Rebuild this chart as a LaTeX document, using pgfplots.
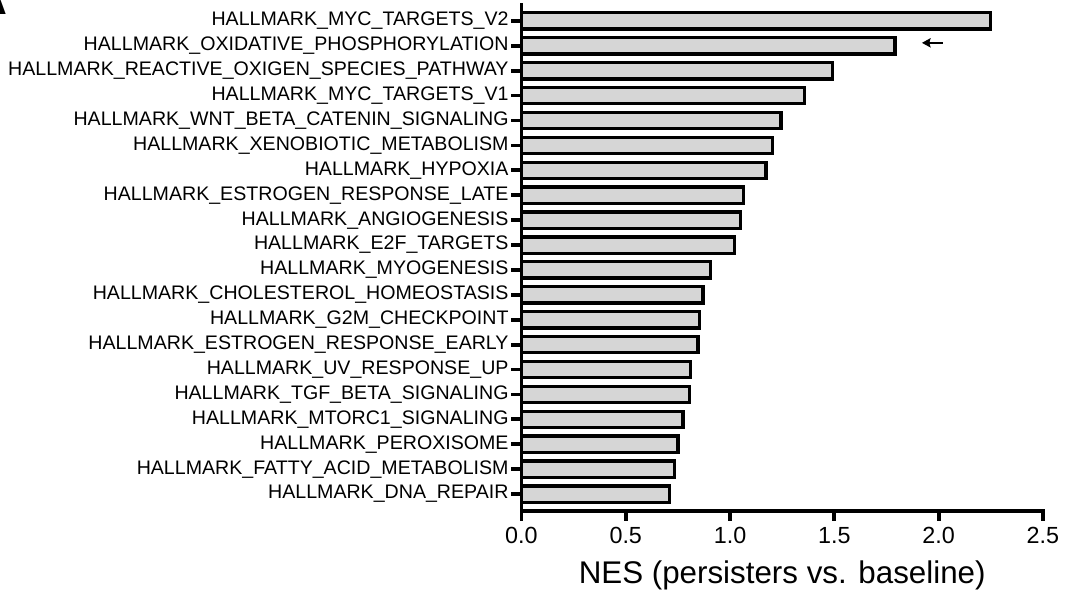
\documentclass[border=0pt]{standalone}
\usepackage{fontspec}
\setmainfont{Liberation Sans}
\usepackage{pgfplots}
\pgfplotsset{compat=1.18}
\usetikzlibrary{arrows.meta}
\definecolor{barfill}{RGB}{214,214,214}
\begin{document}
\begin{tikzpicture}[x=1pt,y=1pt]
\begin{axis}[
  at={(391.1pt,63pt)}, anchor=south west,
  scale only axis, width=391.1pt, height=379.5pt,
  xmin=0, xmax=2.5, ymin=-0.68, ymax=19.64,
  clip=false,
  axis x line*=bottom, axis y line*=left,
  axis line style={-, line width=2.8pt, line cap=rect, black},
  every tick/.style={line width=2.8pt, black},
  major tick length=7.5pt, tick align=outside,
  xtick={0,0.5,1,1.5,2,2.5},
  ytick={0,...,19},
  /pgf/number format/assume math mode=true,
  xticklabel style={font=\fontsize{17.5}{17.5}\selectfont, inner sep=4.5pt,
    /pgf/number format/fixed, /pgf/number format/fixed zerofill,
    /pgf/number format/precision=1},
  yticklabel style={font=\fontsize{14.7}{14.7}\selectfont, inner sep=2pt},
  yticklabels={HALLMARK\_DNA\_REPAIR,
    HALLMARK\_FATTY\_ACID\_METABOLISM,
    HALLMARK\_PEROXISOME,
    HALLMARK\_MTORC1\_SIGNALING,
    HALLMARK\_TGF\_BETA\_SIGNALING,
    HALLMARK\_UV\_RESPONSE\_UP,
    HALLMARK\_ESTROGEN\_RESPONSE\_EARLY,
    HALLMARK\_G2M\_CHECKPOINT,
    HALLMARK\_CHOLESTEROL\_HOMEOSTASIS,
    HALLMARK\_MYOGENESIS,
    HALLMARK\_E2F\_TARGETS,
    HALLMARK\_ANGIOGENESIS,
    HALLMARK\_ESTROGEN\_RESPONSE\_LATE,
    HALLMARK\_HYPOXIA,
    HALLMARK\_XENOBIOTIC\_METABOLISM,
    HALLMARK\_WNT\_BETA\_CATENIN\_SIGNALING,
    HALLMARK\_MYC\_TARGETS\_V1,
    HALLMARK\_REACTIVE\_OXIGEN\_SPECIES\_PATHWAY,
    HALLMARK\_OXIDATIVE\_PHOSPHORYLATION,
    HALLMARK\_MYC\_TARGETS\_V2},
  xlabel={NES (persisters vs. baseline)},
  xlabel style={font=\fontsize{23.5}{23.5}\selectfont,
    at={(axis description cs:0.5,0)}, anchor=north, inner sep=0pt, yshift=-37.5pt},
  xbar, bar width=12.2pt, bar shift=0pt,
]
\addplot[draw=black, fill=barfill, line width=2.5pt] coordinates {
  (0.711,0) (0.735,1) (0.751,2) (0.774,3) (0.806,4)
  (0.809,5) (0.847,6) (0.854,7) (0.871,8) (0.905,9)
  (1.021,10) (1.050,11) (1.066,12) (1.173,13) (1.205,14)
  (1.244,15) (1.356,16) (1.492,17) (1.790,18) (2.250,19)
};
\draw[line width=1.1pt, -{Stealth[length=6.5pt, width=7pt, inset=1pt]}]
  (axis cs:2.02,18.12) -- (axis cs:1.92,18.12);
\end{axis}
\node[anchor=base east, inner sep=0pt, font=\fontsize{32}{32}\selectfont\bfseries] at (6pt,435pt) {A};
\pgfresetboundingbox
\useasboundingbox (0pt,0pt) rectangle (798.75pt,446.25pt);
\end{tikzpicture}
\end{document}
